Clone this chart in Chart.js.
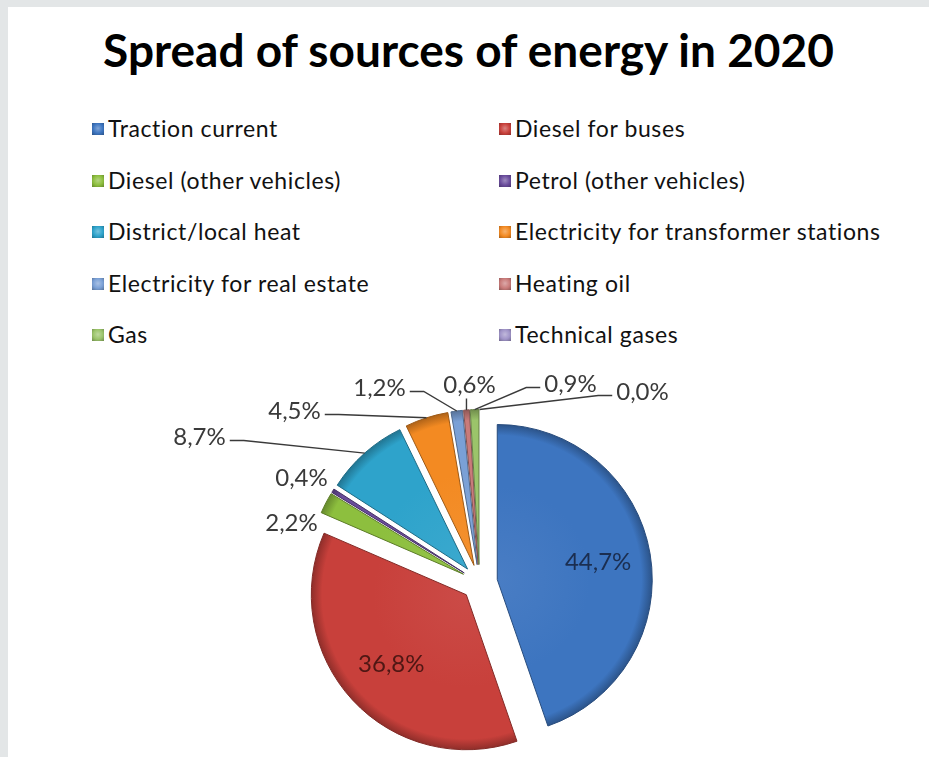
<!DOCTYPE html>
<html>
<head>
<meta charset="utf-8">
<script src="https://cdn.jsdelivr.net/npm/chart.js@4.4.1/dist/chart.umd.min.js"></script>
<style>
  body { margin: 0; background: #e3e6e7; width: 929px; height: 757px; overflow: hidden; }
  #panel { position: absolute; left: 8px; top: 7px; width: 921px; height: 750px; background: #fff; }
  #titulo { position: absolute; left: 8px; top: 22px; width: 921px; text-align: center;
            font: bold 46px Lato, sans-serif; color: #000; white-space: nowrap; }
  .item { position: absolute; font: 23px Lato, sans-serif; letter-spacing: 0.6px; color: #111;
          white-space: nowrap; line-height: 26px; }
  .marca { position: absolute; width: 12px; height: 12px; top: 8px; left: -16px; }
  #lienzo { position: absolute; left: 0; top: 0; width: 929px; height: 757px; }
</style>
</head>
<body>
<div id="panel"></div>
<div id="titulo">Spread of sources of energy in 2020</div>
<div id="leyenda"></div>
<div id="lienzo"><canvas id="grafico"></canvas></div>
<script>
const categorias = ['Traction current', 'Diesel for buses', 'Diesel (other vehicles)', 'Petrol (other vehicles)',
    'District/local heat', 'Electricity for transformer stations', 'Electricity for real estate', 'Heating oil',
    'Gas', 'Technical gases'];
const porcentajes = [44.7, 36.8, 2.2, 0.4, 8.7, 4.5, 1.2, 0.6, 0.9, 0.0];
const colores = ['#3d75c0', '#c8403b', '#8dbf3e', '#6a4c9c', '#2ea3cb', '#f38a22', '#7aa0d6', '#c97b7a', '#9bc46a', '#a094c8'];
const etiquetas = porcentajes.map(v => v.toFixed(1).replace('.', ',') + '%');

// how far each slice is pulled out of the pie
const SEPARACION = 18;
// where each value label sits, measured from the pie centre (null = inside the slice)
const posEtiquetas = [null, null, [-188, -59], [-178, -104], [-280, -145], [-185, -171], [-100, -194], [-10, -197], [91, -198], [163, -190]];
const conLinea = [false, false, false, false, true, true, true, true, true, true];
const colorDentro = ['#1b2e50', '#4f1714'];

function mezclar(hex, otro, t) {
    const a = parseInt(hex.slice(1), 16), b = parseInt(otro.slice(1), 16);
    const r = Math.round(((a >> 16) & 255) * (1 - t) + ((b >> 16) & 255) * t);
    const g = Math.round(((a >> 8) & 255) * (1 - t) + ((b >> 8) & 255) * t);
    const bl = Math.round((a & 255) * (1 - t) + (b & 255) * t);
    return 'rgb(' + r + ',' + g + ',' + bl + ')';
}

// legend in two columns
const leyenda = document.getElementById('leyenda');
categorias.forEach((nombre, i) => {
    const fila = Math.floor(i / 2), col = i % 2;
    const div = document.createElement('div');
    div.className = 'item';
    div.style.left = (col ? 515 : 108) + 'px';
    div.style.top = (115 + fila * 51.5) + 'px';
    const c = colores[i];
    div.innerHTML = '<span class="marca" style="background: radial-gradient(circle at 50% 45%, ' +
        mezclar(c, '#ffffff', 0.35) + ', ' + c + ' 55%, ' + mezclar(c, '#000000', 0.3) + ')"></span>' + nombre;
    leyenda.appendChild(div);
});

function relleno(c) {
    const area = c.chart.chartArea;
    const base = colores[c.dataIndex];
    if (!area) return base;
    const x = (area.left + area.right) / 2, y = (area.top + area.bottom) / 2;
    const r = (Math.min(area.right - area.left, area.bottom - area.top) - 1) / 2;
    const g = c.chart.ctx.createRadialGradient(x, y, 0, x, y, r);
    g.addColorStop(0, mezclar(base, '#ffffff', 0.06));
    g.addColorStop(0.6, base);
    g.addColorStop(0.93, base);
    g.addColorStop(1, mezclar(base, '#000000', 0.28));
    return g;
}

const explotar = {
    id: 'explotar',
    beforeDatasetDraw(chart, args) {
        const ctx = chart.ctx;
        args.meta.data.forEach(arc => {
            const medio = (arc.startAngle + arc.endAngle) / 2;
            ctx.save();
            ctx.translate(Math.cos(medio) * SEPARACION, Math.sin(medio) * SEPARACION);
            arc.draw(ctx);
            ctx.restore();
        });
        return false;
    }
};

const rotulos = {
    id: 'rotulos',
    afterDatasetsDraw(chart) {
        const ctx = chart.ctx;
        const arcs = chart.getDatasetMeta(0).data;
        ctx.save();
        ctx.font = '24px Lato, sans-serif';
        ctx.textAlign = 'center';
        ctx.textBaseline = 'middle';
        arcs.forEach((arc, i) => {
            const medio = (arc.startAngle + arc.endAngle) / 2;
            const cx = arc.x + Math.cos(medio) * SEPARACION;
            const cy = arc.y + Math.sin(medio) * SEPARACION;
            const pos = posEtiquetas[i];
            if (!pos) {
                ctx.fillStyle = colorDentro[i];
                ctx.fillText(etiquetas[i], cx + Math.cos(medio) * arc.outerRadius * 0.66, cy + Math.sin(medio) * arc.outerRadius * 0.66);
                return;
            }
            const tx = arc.x + pos[0], ty = arc.y + pos[1];
            ctx.fillStyle = '#3a3a3a';
            ctx.fillText(etiquetas[i], tx, ty);
            if (!conLinea[i]) return;
            const bx = cx + Math.cos(medio) * arc.outerRadius;
            const by = cy + Math.sin(medio) * arc.outerRadius;
            const ancho = ctx.measureText(etiquetas[i]).width;
            ctx.strokeStyle = '#3a3a3a';
            ctx.lineWidth = 1.4;
            ctx.beginPath();
            if (Math.abs(bx - tx) < ancho / 2) {
                ctx.moveTo(bx, ty + 13);
                ctx.lineTo(bx, by);
            } else {
                const lado = bx > tx ? 1 : -1;
                const x0 = tx + lado * (ancho / 2 + 4);
                ctx.moveTo(x0, ty + 3);
                ctx.lineTo(x0 + lado * 14, ty + 3);
                ctx.lineTo(bx, by);
            }
            ctx.stroke();
        });
        ctx.restore();
    }
};

new Chart(document.getElementById('grafico'), {
    type: 'pie',
    data: {
        labels: categorias,
        datasets: [{
            data: porcentajes,
            backgroundColor: relleno,
            borderColor: colores.map(c => mezclar(c, '#000000', 0.35)),
            borderWidth: 1
        }]
    },
    options: {
        responsive: true,
        maintainAspectRatio: false,
        animation: false,
        layout: { padding: { left: 324, right: 294, top: 427, bottom: 19 } },
        plugins: {
            legend: { display: false },
            title: { display: false },
            tooltip: { enabled: false }
        }
    },
    plugins: [explotar, rotulos]
});
</script>
</body>
</html>
